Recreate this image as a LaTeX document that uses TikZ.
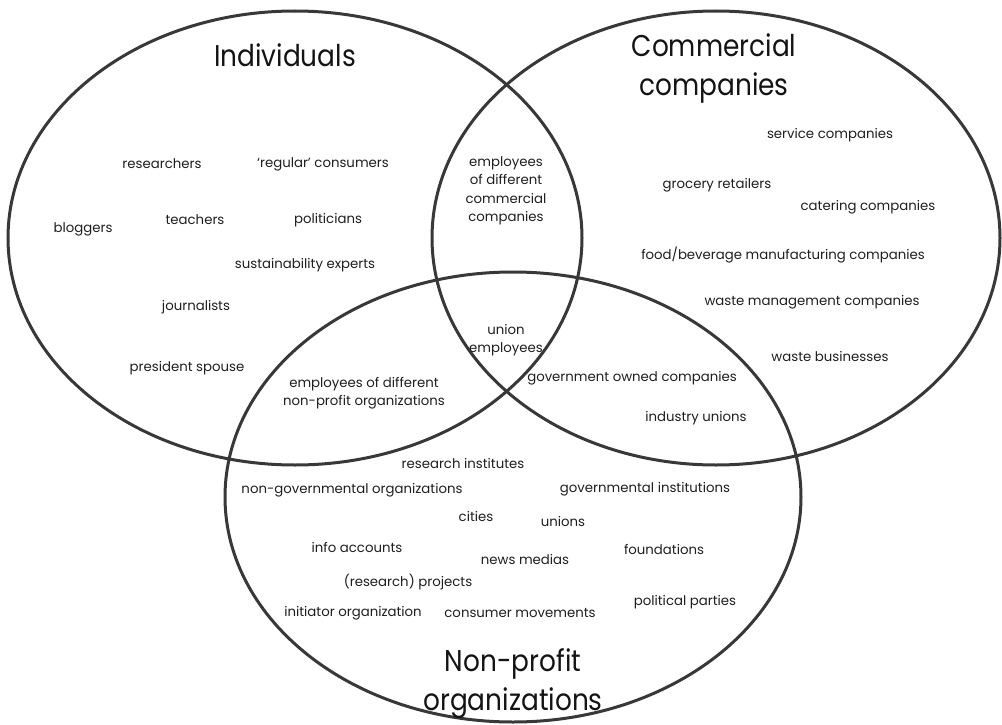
\documentclass[tikz,border=0pt]{standalone}
\usepackage{fontspec}
\setmainfont{Poppins}
\newfontfamily\titlefont[FakeStretch=0.88]{Poppins}
\begin{document}
\begin{tikzpicture}[x=1pt,y=-1pt,
  ring/.style={draw=black!78, line width=3pt},
  item/.style={font=\fontsize{13.3}{18.5}\selectfont, text=black!88, inner sep=0pt, align=center},
  title/.style={font=\titlefont\fontsize{30}{39}\selectfont, text=black!92, inner sep=0pt, align=center}]
\useasboundingbox (0,0) rectangle (1002,725);
\fill[white] (0,0) rectangle (1002,725);

% the three sets
\draw[ring] (295,238) ellipse [x radius=287, y radius=227];
\draw[ring] (716,238) ellipse [x radius=284, y radius=227];
\draw[ring] (513,497) ellipse [x radius=288, y radius=225];

% set titles
\node[title] (tInd) at (285,55) {Individuals};
\node[title] (tCom) at (714,68) {Commercial\\companies};
\node[title] (tNon) at (513,684) {Non-profit\\organizations};

% individuals
\node[item] (researchers) at (162,164) {researchers};
\node[item] (regular) at (323,164) {‘regular’ consumers};
\node[item] (bloggers) at (83,229) {bloggers};
\node[item] (teachers) at (195,220) {teachers};
\node[item] (politicians) at (328,220) {politicians};
\node[item] (sustain) at (305,265) {sustainability experts};
\node[item] (journalists) at (196,307) {journalists};
\node[item] (spouse) at (187,368) {president spouse};

% overlaps
\node[item] (empCom) at (506,191) {employees\\of different\\commercial\\companies};
\node[item] (union) at (506,340) {union\\employees};
\node[item] (empNon) at (364,393) {employees of different\\non-profit organizations};
\node[item] (govOwned) at (632,378) {government owned companies};
\node[item] (indUnions) at (696,418) {industry unions};

% commercial companies
\node[item] (service) at (830,135) {service companies};
\node[item] (grocery) at (717,185) {grocery retailers};
\node[item] (catering) at (868,207) {catering companies};
\node[item] (food) at (783,255) {food/beverage manufacturing companies};
\node[item] (wasteMgmt) at (812,302) {waste management companies};
\node[item] (wasteBiz) at (830,356) {waste businesses};

% non-profit organizations
\node[item] (resInst) at (463,463) {research institutes};
\node[item] (ngo) at (352,490) {non-governmental organizations};
\node[item] (govInst) at (645,489) {governmental institutions};
\node[item] (cities) at (476,516) {cities};
\node[item] (unions) at (563,521) {unions};
\node[item] (info) at (357,547) {info accounts};
\node[item] (news) at (525,559) {news medias};
\node[item] (foundations) at (664,549) {foundations};
\node[item] (projects) at (408,582) {(research) projects};
\node[item] (initiator) at (353,613) {initiator organization};
\node[item] (consumer) at (520,613) {consumer movements};
\node[item] (parties) at (685,602) {political parties};
\end{tikzpicture}
\end{document}
